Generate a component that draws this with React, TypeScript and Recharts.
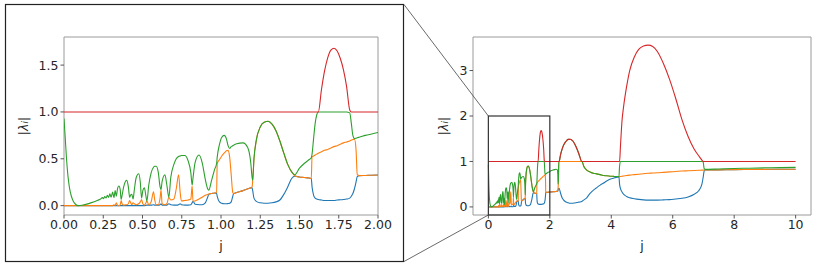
import React from 'react'
import { LineChart, Line, XAxis, YAxis, ReferenceArea } from 'recharts'

// j grid, grouped so the series arrays below line up row by row
const jValues = [
  0, 0.008, 0.016, 0.025, 0.035, 0.047, 0.06, 0.075, 0.09, 0.115, 0.145, 0.175, 0.205, 0.23,
  0.245, 0.252, 0.26, 0.268, 0.276, 0.284, 0.292, 0.3, 0.31, 0.318, 0.326, 0.333, 0.342, 0.35,
  0.358, 0.364, 0.37, 0.38, 0.392, 0.4, 0.41, 0.418, 0.425, 0.432, 0.44, 0.448, 0.46, 0.476,
  0.486, 0.494, 0.502, 0.512, 0.522, 0.528, 0.54, 0.555, 0.57, 0.578, 0.587, 0.6,
  0.612, 0.618, 0.625, 0.643, 0.655, 0.668, 0.68, 0.7, 0.715, 0.73, 0.74, 0.748,
  0.77, 0.79, 0.808, 0.816, 0.822, 0.835, 0.86, 0.88, 0.9, 0.915, 0.922, 0.94, 0.96, 0.972,
  0.976, 0.99, 1.005, 1.02, 1.035, 1.045, 1.055, 1.065, 1.075, 1.08, 1.1, 1.14, 1.17, 1.19, 1.198,
  1.202, 1.21, 1.225, 1.25, 1.275, 1.3, 1.325, 1.35, 1.375, 1.4, 1.425, 1.45, 1.47,
  1.5, 1.53, 1.56, 1.575, 1.58, 1.59, 1.6, 1.61, 1.62,
  1.64, 1.66, 1.68, 1.7, 1.72, 1.74, 1.76, 1.78, 1.8, 1.82, 1.83, 1.84, 1.85, 1.86, 1.868, 1.88, 1.92, 1.96, 2.0,
  2.05, 2.1, 2.15, 2.2, 2.24, 2.26, 2.27, 2.28, 2.29, 2.3,
  2.35, 2.4, 2.45, 2.5, 2.55, 2.6, 2.66, 2.75, 2.85, 2.95, 3.04, 3.05, 3.1, 3.2, 3.31, 3.42, 3.5, 3.64, 3.74, 3.85, 4.0, 4.07, 4.15, 4.25,
  4.27, 4.3, 4.35, 4.4, 4.5, 4.6, 4.75, 4.9, 5.05, 5.2, 5.35, 5.5, 5.7, 5.9, 6.1, 6.3, 6.5, 6.7, 6.85, 6.95, 6.99, 7.02, 7.05, 7.5, 8, 8.5, 9, 9.5, 10,
]

// |lambda_1| (blue, smallest)
const lambda1 = [
  0, 0, 0, 0, 0, 0, 0, 0, 0, 0, 0, 0, 0, 0,
  0, 0, 0, 0, 0, 0, 0, 0, 0, 0, 0, 0, 0, 0,
  0, 0, 0, 0, 0, 0, 0, 0, 0, 0, 0, 0, 0, 0,
  0, 0, 0, 0, 0.003, 0.005, 0.005, 0.005, 0.01, 0.005, 0.005, 0.005,
  0.01, 0.02, 0.005, 0.005, 0.005, 0.02, 0.01, 0.005, 0.005, 0.01, 0.02, 0.01,
  0.005, 0.005, 0.01, 0.03, 0.045, 0.015, 0.01, 0.01, 0.03, 0.09, 0.12, 0.13, 0.135, 0.13,
  0.1, 0.04, 0.025, 0.02, 0.02, 0.022, 0.025, 0.04, 0.1, 0.125, 0.14, 0.16, 0.18, 0.19, 0.19,
  0.16, 0.08, 0.045, 0.03, 0.025, 0.025, 0.03, 0.04, 0.06, 0.12, 0.2, 0.29, 0.315,
  0.305, 0.3, 0.295, 0.29, 0.2, 0.11, 0.08, 0.07, 0.065,
  0.06, 0.055, 0.055, 0.055, 0.055, 0.06, 0.062, 0.065, 0.07, 0.08, 0.1, 0.13, 0.18, 0.25, 0.31, 0.32, 0.322, 0.325, 0.327,
  0.33, 0.333, 0.336, 0.34, 0.345, 0.35, 0.37, 0.4, 0.41, 0.41,
  0.3, 0.2, 0.15, 0.12, 0.1, 0.09, 0.08, 0.082, 0.09, 0.105, 0.12, 0.125, 0.15, 0.2, 0.3, 0.37, 0.41, 0.48, 0.52, 0.57, 0.62, 0.63, 0.65, 0.66,
  0.5, 0.4, 0.33, 0.28, 0.23, 0.2, 0.18, 0.165, 0.155, 0.15, 0.15, 0.15, 0.155, 0.16, 0.175, 0.19, 0.22, 0.28, 0.36, 0.5, 0.65, 0.78, 0.812, 0.815, 0.82, 0.823, 0.826, 0.828, 0.83,
]

// |lambda_2| (orange)
const lambda2 = [
  0, 0, 0, 0, 0, 0, 0, 0, 0, 0, 0, 0, 0, 0,
  0, 0, 0, 0, 0, 0, 0, 0, 0, 0.01, 0, 0.03, 0, 0,
  0.01, 0.055, 0.02, 0.005, 0.01, 0.01, 0.02, 0.055, 0.03, 0.01, 0.03, 0.02, 0.01, 0.02,
  0.04, 0.065, 0.02, 0.005, 0.03, 0.05, 0.01, 0.04, 0.147, 0.06, 0.01, 0.01,
  0.08, 0.165, 0.02, 0.01, 0.02, 0.09, 0.06, 0.07, 0.18, 0.33, 0.14, 0.05,
  0.055, 0.06, 0.07, 0.21, 0.045, 0.05, 0.07, 0.09, 0.11, 0.12, 0.125, 0.13, 0.135, 0.14,
  0.45, 0.49, 0.53, 0.56, 0.585, 0.59, 0.52, 0.33, 0.14, 0.13, 0.14, 0.16, 0.18, 0.19, 0.2,
  0.27, 0.5, 0.7, 0.84, 0.89, 0.9, 0.87, 0.8, 0.69, 0.56, 0.44, 0.36, 0.32,
  0.305, 0.3, 0.295, 0.29, 0.52, 0.53, 0.54, 0.55, 0.56,
  0.575, 0.59, 0.6, 0.615, 0.63, 0.64, 0.655, 0.67, 0.68, 0.69, 0.7, 0.705, 0.71, 0.6, 0.33, 0.32, 0.322, 0.325, 0.327,
  0.33, 0.333, 0.336, 0.34, 0.345, 0.36, 0.42, 0.6, 0.85, 1,
  1, 1, 1, 1, 1, 1, 1, 1, 1, 1, 1, 1, 0.9, 0.81, 0.77, 0.74, 0.73, 0.71, 0.69, 0.685, 0.675, 0.672, 0.668, 0.665,
  0.667, 0.67, 0.675, 0.68, 0.69, 0.7, 0.71, 0.72, 0.73, 0.74, 0.745, 0.75, 0.76, 0.77, 0.78, 0.79, 0.795, 0.8, 0.805, 0.81, 0.81, 0.81, 0.812, 0.815, 0.82, 0.823, 0.826, 0.828, 0.83,
]

// |lambda_3| (green)
const lambda3 = [
  0.93, 0.72, 0.5, 0.32, 0.19, 0.1, 0.045, 0.012, 0, 0.004, 0.016, 0.032, 0.05, 0.068,
  0.085, 0.075, 0.098, 0.082, 0.11, 0.088, 0.125, 0.09, 0.145, 0.085, 0.16, 0.1, 0.19, 0.21,
  0.17, 0.065, 0.11, 0.2, 0.26, 0.27, 0.2, 0.09, 0.115, 0.12, 0.07, 0.17, 0.3, 0.34,
  0.25, 0.08, 0.16, 0.19, 0.1, 0.05, 0.22, 0.35, 0.41, 0.42, 0.42, 0.36,
  0.2, 0.17, 0.26, 0.33, 0.22, 0.09, 0.3, 0.44, 0.5, 0.525, 0.53, 0.535,
  0.535, 0.48, 0.35, 0.22, 0.3, 0.46, 0.54, 0.46, 0.28, 0.18, 0.165, 0.27, 0.39, 0.45,
  0.52, 0.65, 0.73, 0.75, 0.71, 0.64, 0.61, 0.63, 0.64, 0.645, 0.66, 0.67, 0.62, 0.45, 0.3,
  0.27, 0.5, 0.7, 0.84, 0.89, 0.9, 0.87, 0.8, 0.69, 0.56, 0.44, 0.36, 0.33,
  0.4, 0.45, 0.49, 0.51, 0.55, 0.72, 0.88, 0.97, 1,
  1, 1, 1, 1, 1, 1, 1, 1, 1, 0.99, 0.88, 0.75, 0.715, 0.72, 0.725, 0.73, 0.75, 0.765, 0.78,
  0.8, 0.81, 0.82, 0.83, 0.82, 0.72, 0.5, 0.6, 1, 1,
  1.15, 1.27, 1.36, 1.42, 1.46, 1.485, 1.49, 1.45, 1.33, 1.16, 1, 1, 0.9, 0.81, 0.77, 0.74, 0.73, 0.71, 0.69, 0.685, 0.675, 0.672, 0.668, 0.665,
  0.9, 1, 1, 1, 1, 1, 1, 1, 1, 1, 1, 1, 1, 1, 1, 1, 1, 1, 1, 1, 0.99, 0.85, 0.825, 0.835, 0.845, 0.852, 0.86, 0.865, 0.87,
]

// |lambda_4| (red, largest)
const lambda4 = [
  1, 1, 1, 1, 1, 1, 1, 1, 1, 1, 1, 1, 1, 1,
  1, 1, 1, 1, 1, 1, 1, 1, 1, 1, 1, 1, 1, 1,
  1, 1, 1, 1, 1, 1, 1, 1, 1, 1, 1, 1, 1, 1,
  1, 1, 1, 1, 1, 1, 1, 1, 1, 1, 1, 1,
  1, 1, 1, 1, 1, 1, 1, 1, 1, 1, 1, 1,
  1, 1, 1, 1, 1, 1, 1, 1, 1, 1, 1, 1, 1, 1,
  1, 1, 1, 1, 1, 1, 1, 1, 1, 1, 1, 1, 1, 1, 1,
  1, 1, 1, 1, 1, 1, 1, 1, 1, 1, 1, 1, 1,
  1, 1, 1, 1, 1, 1, 1, 1, 1,
  1.24, 1.44, 1.58, 1.66, 1.68, 1.65, 1.57, 1.45, 1.27, 1.02, 1, 1, 1, 1, 1, 1, 1, 1, 1,
  1, 1, 1, 1, 1, 1, 1, 1, 1, 1,
  1.15, 1.27, 1.36, 1.42, 1.46, 1.485, 1.49, 1.45, 1.33, 1.16, 1, 1, 1, 1, 1, 1, 1, 1, 1, 1, 1, 1, 1, 1,
  1, 1.35, 1.9, 2.2, 2.65, 3.0, 3.3, 3.47, 3.54, 3.56, 3.53, 3.42, 3.15, 2.8, 2.38, 1.92, 1.55, 1.27, 1.12, 1.03, 1, 1, 1, 1, 1, 1, 1, 1, 1,
]

const leftXTicks = [0, 0.25, 0.5, 0.75, 1, 1.25, 1.5, 1.75, 2]
const leftYTicks = [0, 0.5, 1, 1.5]
const rightXTicks = [0, 2, 4, 6, 8, 10]
const rightYTicks = [0, 1, 2, 3]

const data = jValues.map((j, i) => ({
  j,
  l1: lambda1[i],
  l2: lambda2[i],
  l3: lambda3[i],
  l4: lambda4[i],
}))

const SERIES = [
  { key: 'l1', color: '#1f77b4' },
  { key: 'l2', color: '#ff7f0e' },
  { key: 'l3', color: '#2ca02c' },
  { key: 'l4', color: '#d62728' },
]

const TEXT = '#262626'
const FONT = 'DejaVu Sans'
const FONT_SIZE = 12.5
const XAXIS_H = 30
const YAXIS_W = 40

// plot areas in page pixels
const LEFT = { x0: 0, w: 404, plotL: 64, plotR: 378, plotT: 37, plotB: 215 }
const RIGHT = { x0: 404, w: 427, plotL: 473, plotR: 811, plotT: 37, plotB: 215 }
const LEFT_X: [number, number] = [0, 2]
const LEFT_Y: [number, number] = [-0.1, 1.8]
const RIGHT_X: [number, number] = [-0.5, 10.5]
const RIGHT_Y: [number, number] = [-0.178, 3.738]

const rx = (v: number) =>
  RIGHT.plotL + ((v - RIGHT_X[0]) / (RIGHT_X[1] - RIGHT_X[0])) * (RIGHT.plotR - RIGHT.plotL)
const ry = (v: number) =>
  RIGHT.plotB - ((v - RIGHT_Y[0]) / (RIGHT_Y[1] - RIGHT_Y[0])) * (RIGHT.plotB - RIGHT.plotT)

interface PanelProps {
  box: typeof LEFT
  xDomain: [number, number]
  yDomain: [number, number]
  xTicks: number[]
  yTicks: number[]
  xFmt: (v: number) => string
  yFmt: (v: number) => string
}

function Panel({ box, xDomain, yDomain, xTicks, yTicks, xFmt, yFmt }: PanelProps) {
  const tick = { fill: TEXT, fontSize: FONT_SIZE, fontFamily: FONT }
  return (
    <div style={{ position: 'absolute', left: box.x0, top: 0 }}>
      <LineChart
        width={box.w}
        height={268}
        data={data}
        margin={{
          top: box.plotT,
          right: box.x0 + box.w - box.plotR,
          bottom: 268 - box.plotB - XAXIS_H,
          left: box.plotL - box.x0 - YAXIS_W,
        }}
      >
        <XAxis
          type="number"
          dataKey="j"
          domain={xDomain}
          allowDataOverflow
          ticks={xTicks}
          interval={0}
          tickFormatter={xFmt}
          tick={tick}
          tickSize={3.5}
          tickLine={{ stroke: '#555' }}
          axisLine={false}
          height={XAXIS_H}
        />
        <YAxis
          type="number"
          domain={yDomain}
          allowDataOverflow
          ticks={yTicks}
          interval={0}
          tickFormatter={yFmt}
          tick={tick}
          tickSize={3.5}
          tickLine={{ stroke: '#555' }}
          axisLine={false}
          width={YAXIS_W}
        />
        <ReferenceArea
          x1={xDomain[0]}
          x2={xDomain[1]}
          y1={yDomain[0]}
          y2={yDomain[1]}
          fill="none"
          stroke="#9a9a9a"
          strokeWidth={1}
        />
        {SERIES.map((s) => (
          <Line
            key={s.key}
            type="monotone"
            dataKey={s.key}
            stroke={s.color}
            strokeWidth={1.1}
            dot={false}
            isAnimationActive={false}
          />
        ))}
      </LineChart>
    </div>
  )
}

function LambdaLabel({ x, y }: { x: number; y: number }) {
  return (
    <text
      x={x}
      y={y}
      transform={`rotate(-90 ${x} ${y})`}
      textAnchor="middle"
      dominantBaseline="central"
      fontSize={FONT_SIZE}
      fontFamily={FONT}
      fill={TEXT}
    >
      |<tspan fontStyle="italic">λ</tspan>
      <tspan fontStyle="italic" fontSize={9} dy={2}>i</tspan>
      <tspan dy={-2}>|</tspan>
    </text>
  )
}

export default function App() {
  const insetL = rx(LEFT_X[0])
  const insetR = rx(LEFT_X[1])
  const insetT = ry(2)
  const insetB = RIGHT.plotB
  return (
    <div
      style={{
        position: 'absolute',
        left: 0,
        top: 0,
        width: 831,
        height: 268,
        background: '#fff',
        overflow: 'hidden',
      }}
    >
      <Panel
        box={LEFT}
        xDomain={LEFT_X}
        yDomain={LEFT_Y}
        xTicks={leftXTicks}
        yTicks={leftYTicks}
        xFmt={(v) => v.toFixed(2)}
        yFmt={(v) => v.toFixed(1)}
      />
      <Panel
        box={RIGHT}
        xDomain={RIGHT_X}
        yDomain={RIGHT_Y}
        xTicks={rightXTicks}
        yTicks={rightYTicks}
        xFmt={(v) => String(v)}
        yFmt={(v) => String(v)}
      />
      <svg
        width={831}
        height={268}
        style={{ position: 'absolute', left: 0, top: 0, pointerEvents: 'none' }}
      >
        {/* zoom box around the left panel and its inset marker */}
        <rect x={5.5} y={4.5} width={398} height={257} fill="none" stroke="#222" strokeWidth={1.2} />
        <rect
          x={insetL}
          y={insetT}
          width={insetR - insetL}
          height={insetB - insetT}
          fill="none"
          stroke="#333"
          strokeWidth={1.2}
        />
        <line x1={404} y1={4.5} x2={insetL} y2={insetT} stroke="#444" strokeWidth={0.8} />
        <line x1={404} y1={261.5} x2={insetL} y2={insetB} stroke="#444" strokeWidth={0.8} />
        <text x={221} y={245} textAnchor="middle" dominantBaseline="central" fontSize={FONT_SIZE} fontFamily={FONT} fill={TEXT}>
          j
        </text>
        <text x={642} y={245} textAnchor="middle" dominantBaseline="central" fontSize={FONT_SIZE} fontFamily={FONT} fill={TEXT}>
          j
        </text>
        <LambdaLabel x={23} y={126} />
        <LambdaLabel x={443} y={126} />
      </svg>
    </div>
  )
}
